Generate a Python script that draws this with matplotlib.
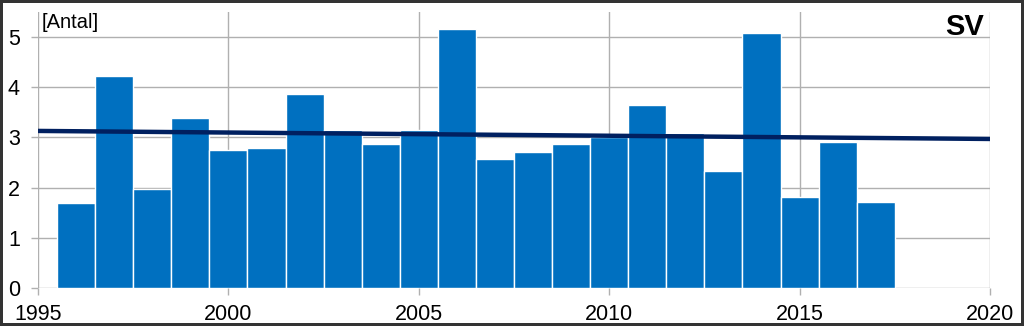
import matplotlib
matplotlib.use("Agg")
from matplotlib import pyplot as plt

plt.rcParams['font.family'] = ['Liberation Sans', 'DejaVu Sans']

years = [1996, 1997, 1998, 1999, 2000, 2001, 2002, 2003, 2004, 2005, 2006,
         2007, 2008, 2009, 2010, 2011, 2012, 2013, 2014, 2015, 2016, 2017]
counts = [1.70, 4.23, 1.98, 3.39, 2.75, 2.79, 3.87, 3.15, 2.87, 3.15, 5.17,
          2.57, 2.72, 2.87, 3.00, 3.65, 3.09, 2.34, 5.09, 1.82, 2.91, 1.71]

# trend line endpoints
trend_years = [1995, 2020]
trend_vals = [3.13, 2.97]

x_ticks = [1995, 2000, 2005, 2010, 2015, 2020]
y_ticks = [0, 1, 2, 3, 4, 5]

fig = plt.figure(figsize=(10.24, 3.26), dpi=100)
fig.patch.set_edgecolor('#333333')
fig.patch.set_linewidth(3)
ax = fig.add_axes([38 / 1024, 1 - 288 / 326, 952 / 1024, 276 / 326])

ax.bar(years, counts, width=1.0, color='#0070C0', edgecolor='white',
       linewidth=1, zorder=2)
ax.plot(trend_years, trend_vals, color='#002060', linewidth=3.2, zorder=3)

ax.set_xlim(1995, 2020)
ax.set_ylim(0, 5.5)
ax.set_xticks(x_ticks)
ax.set_yticks(y_ticks)
ax.grid(True, color='#b0b0b0', linewidth=1, zorder=0)
ax.set_axisbelow(True)
for s in ax.spines.values():
    s.set_visible(False)
ax.tick_params(axis='both', colors='#b0b0b0', labelcolor='black',
               labelsize=15.5, length=5, width=1)
ax.tick_params(axis='y', pad=8)
ax.tick_params(axis='x', pad=6.5)

ax.text(0.004, 0.995, '[Antal]', transform=ax.transAxes, fontsize=14.5,
        va='top', ha='left')
ax.text(0.9935, 0.995, 'SV', transform=ax.transAxes, fontsize=21,
        fontweight='bold', va='top', ha='right')

plt.savefig('out.png', dpi=100)
